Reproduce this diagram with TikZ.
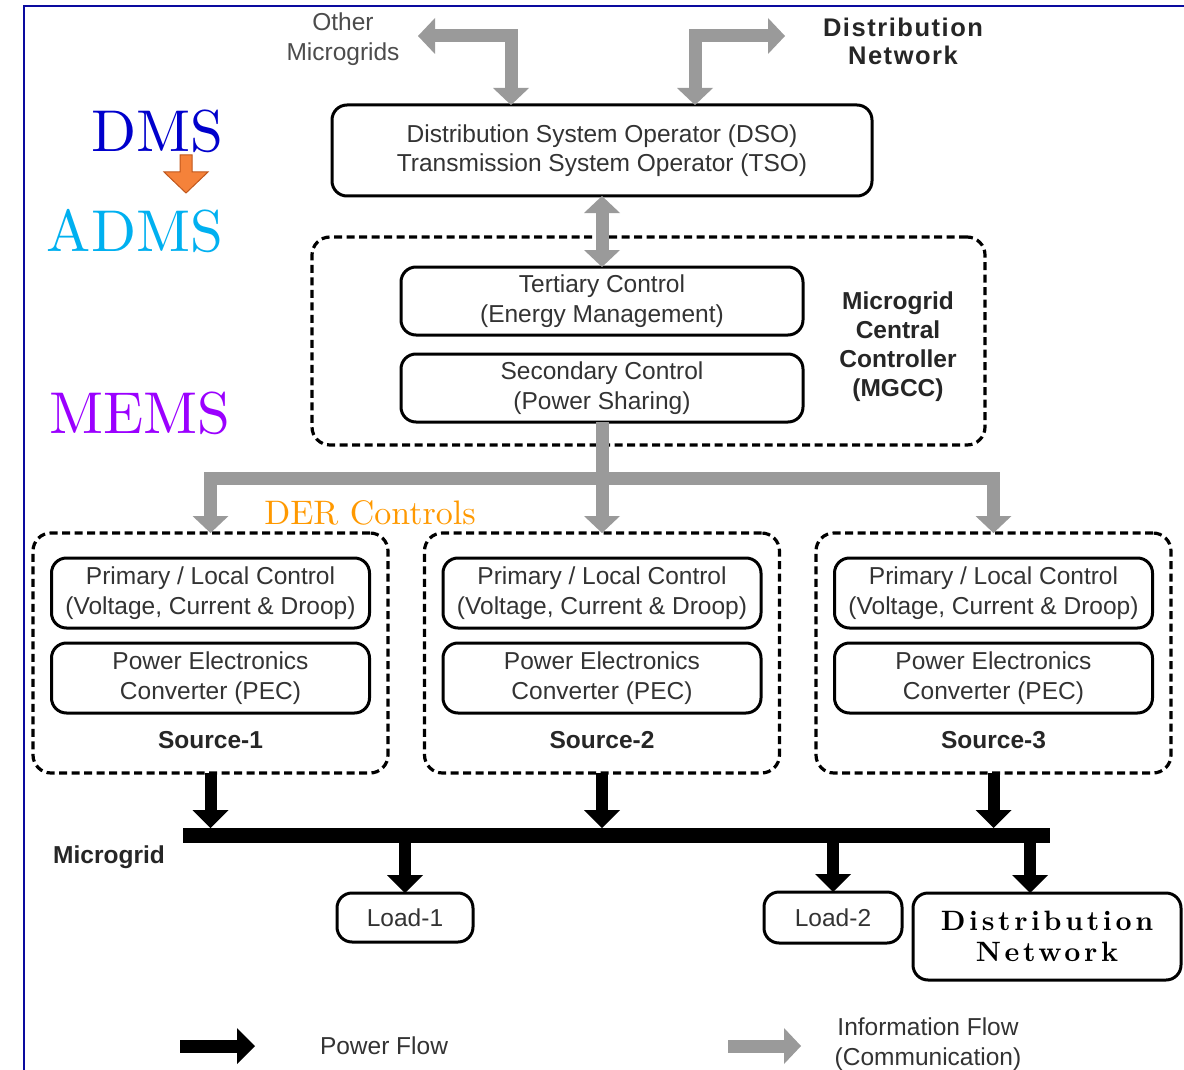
\documentclass[tikz,border=0pt]{standalone}
\usepackage{fontspec}
\usetikzlibrary{arrows.meta}
\newfontfamily\arialfont{Liberation Sans}
\newfontfamily\spacedsans[LetterSpace=6]{Liberation Sans}
\newfontfamily\widebf[LetterSpace=13]{lmroman10-bold.otf}
\newfontfamily\lmten{lmroman10-regular.otf}
\definecolor{infogray}{HTML}{9A9A9A}
\definecolor{txtgray}{HTML}{333333}
\definecolor{dmsblue}{HTML}{0000CC}
\definecolor{admscyan}{HTML}{00B0F0}
\definecolor{memspurple}{HTML}{9B00FF}
\definecolor{derorange}{HTML}{FF9900}
\definecolor{frameblue}{HTML}{0A0A9E}
\definecolor{arrowfill}{HTML}{F5823A}
\definecolor{arrowedge}{HTML}{C0561B}
\tikzset{
  itip/.tip={Triangle[width=36pt,length=17pt,line width=0pt]},
  ptip/.tip={Triangle[width=36pt,length=18pt,line width=0pt]},
}
\begin{document}
\begin{tikzpicture}[x=1pt,y=-1pt,
  every node/.style={inner sep=0pt, outer sep=0pt},
  txt/.style={font=\arialfont\fontsize{24.5}{29.5}\selectfont, text=txtgray, align=center},
  btxt/.style={font=\arialfont\bfseries\fontsize{24.5}{29}\selectfont, text=black!85, align=center},
  solidbox/.style={draw=black, line width=3pt, rounded corners=15pt, txt},
  dashbox/.style={draw=black, line width=3.2pt, dash pattern=on 8pt off 4.5pt, rounded corners=18pt},
  infoflow/.style={draw=infogray, line width=13pt, line join=miter, -itip},
  infoboth/.style={draw=infogray, line width=13pt, line join=miter, itip-itip},
  powerflow/.style={draw=black, line width=12pt, -ptip},
  bigword/.style={font=\lmten\fontsize{59}{60}\selectfont},
]
\useasboundingbox (0,0) rectangle (1184,1070);
\fill[white] (0,0) rectangle (1184,1070);

% frame
\draw[frameblue, line width=2pt, line join=miter] (23.5,1072) -- (23.5,6.5) -- (1186,6.5);

% system-level labels
\node[bigword, text=dmsblue] (dms) at (157,131) {DMS};
\draw[arrowedge, fill=arrowfill, line width=1pt]
  (180,155) -- (192,155) -- (192,172) -- (208,172) -- (186,193) -- (164,172) -- (180,172) -- cycle;
\node[bigword, text=admscyan] (adms) at (135,231) {ADMS};
\node[bigword, text=memspurple] (mems) at (140,413) {MEMS};
\node[font=\lmten\fontsize{34}{35}\selectfont, text=derorange] (der) at (370,513) {DER Controls};

% operators
\node[txt, text=black!70] (omg) at (343,39) {Other\\Microgrids};
\node[btxt, font=\spacedsans\bfseries\fontsize{25.5}{28}\selectfont] (dnt) at (903,41) {Distribution\\Network};
\node[solidbox, minimum width=540pt, minimum height=91pt] (dso) at (602,150.5)
  {Distribution System Operator (DSO)\\Transmission System Operator (TSO)};

\coordinate (omgtip) at (418,36);
\coordinate (omgturn) at (511,36);
\draw[infoboth] (omgtip) -- (omgturn) -- (omgturn |- dso.north);
\coordinate (dntip) at (785,36);
\coordinate (dnturn) at (695,36);
\draw[infoboth] (dntip) -- (dnturn) -- (dnturn |- dso.north);

% microgrid central controller
\node[dashbox, minimum width=673pt, minimum height=208pt] (mgcc) at (648.5,341) {};
\node[solidbox, minimum width=402pt, minimum height=68pt] (tert) at (602,301)
  {Tertiary Control\\(Energy Management)};
\node[solidbox, minimum width=402pt, minimum height=68pt] (sec) at (602,388)
  {Secondary Control\\(Power Sharing)};
\node[btxt] (mgccl) at (898,347) {Microgrid\\Central\\Controller\\(MGCC)};
\draw[infoboth] (dso.south) -- (tert.north);

% microgrid bus
\node[fill=black, minimum width=867pt, minimum height=15pt] (bus) at (616.5,835.5) {};
\node[btxt] (mgl) at (109,857) {Microgrid};

% sources
\foreach \i/\x in {1/210.5, 2/602, 3/993.5} {
  \node[dashbox, minimum width=355pt, minimum height=240pt] (src\i) at (\x,653) {};
  \node[solidbox, minimum width=318pt, minimum height=70pt] (prim\i) at (\x,593)
    {Primary / Local Control\\(Voltage, Current \& Droop)};
  \node[solidbox, minimum width=318pt, minimum height=70pt] (pec\i) at (\x,678)
    {Power Electronics\\Converter (PEC)};
  \node[btxt] (srcl\i) at (\x,740) {Source-\i};
  \draw[powerflow] (src\i.south) -- (src\i.south |- bus.north);
}

% dispatch to the DER controls
\coordinate (hub) at (602,478);
\draw[infoboth] (src1.north) |- (hub) -| (src3.north);
\draw[infoflow] (sec.south) -- (src2.north);

% loads and grid connection
\node[solidbox, minimum width=136pt, minimum height=49pt] (load1) at (405,917.5) {Load-1};
\node[solidbox, minimum width=138pt, minimum height=51pt] (load2) at (833,917.5) {Load-2};
\node[solidbox, minimum width=268pt, minimum height=87pt,
      font=\widebf\fontsize{28}{31}\selectfont, text=black] (dn) at (1047,936.5) {Distribution\\Network};
\draw[powerflow] (bus.south -| load1.north) -- (load1.north);
\draw[powerflow] (bus.south -| load2.north) -- (load2.north);
\coordinate (dnin) at ([xshift=-17pt]dn.north);
\draw[powerflow] (bus.south -| dnin) -- (dnin);

% legend
\coordinate (pfa) at (180,1046);
\coordinate (pfb) at (255,1046);
\draw[powerflow, line width=13pt] (pfa) -- (pfb);
\node[txt] (pft) at (384,1046) {Power Flow};
\coordinate (ifa) at (728,1046);
\coordinate (ifb) at (801,1046);
\draw[infoflow] (ifa) -- (ifb);
\node[txt] (ift) at (928,1044) {Information Flow\\(Communication)};
\end{tikzpicture}
\end{document}
